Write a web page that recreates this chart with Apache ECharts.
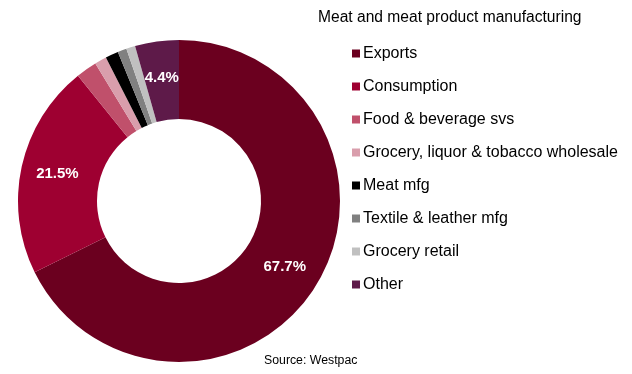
<!DOCTYPE html>
<html>
<head>
<meta charset="utf-8">
<script src="https://cdn.jsdelivr.net/npm/echarts@6/dist/echarts.min.js"></script>
<style>
  html, body { margin: 0; padding: 0; background: #fff; }
  #chart { width: 632px; height: 374px; }
</style>
</head>
<body>
<div id="chart"></div>
<script>
// Shares of meat and meat product manufacturing output by destination (%)
const categories = [
  'Exports',
  'Consumption',
  'Food & beverage svs',
  'Grocery, liquor & tobacco wholesale',
  'Meat mfg',
  'Textile & leather mfg',
  'Grocery retail',
  'Other'
];
const shares = [67.7, 21.5, 2.1, 1.2, 1.3, 0.9, 0.9, 4.4];
const colors = ['#6b001f', '#9e0031', '#c0506b', '#d99eac', '#000000', '#808080', '#c0c0c0', '#5e1a49'];

const FONT = '"Liberation Sans", Arial, sans-serif';

const pieData = categories.map((name, i) => ({
  name,
  value: shares[i],
  itemStyle: { color: colors[i] },
  label: { show: shares[i] >= 4 }
}));

const chart = echarts.init(document.getElementById('chart'), null, { renderer: 'canvas' });
chart.setOption({
  animation: false,
  backgroundColor: '#ffffff',
  title: [
    {
      text: 'Meat and meat product manufacturing',
      left: 318,
      top: 5,
      padding: [5, 0, 5, 0],
      textStyle: { fontFamily: FONT, fontSize: 15.6, fontWeight: 'normal', color: '#000' }
    },
    {
      text: 'Source: Westpac',
      left: 264,
      top: 350,
      padding: [5, 0, 5, 0],
      textStyle: { fontFamily: FONT, fontSize: 12.3, fontWeight: 'normal', color: '#000' }
    }
  ],
  legend: {
    orient: 'vertical',
    left: 352,
    top: 45.5,
    padding: 0,
    icon: 'rect',
    itemWidth: 8,
    itemHeight: 8,
    itemGap: 17,
    selectedMode: false,
    textStyle: { fontFamily: FONT, fontSize: 16, color: '#000', lineHeight: 16, padding: [0, 0, 0, -2] },
    data: categories
  },
  series: [{
    type: 'pie',
    center: [179, 201],
    radius: [82, 161],
    startAngle: 90,
    clockwise: true,
    avoidLabelOverlap: false,
    itemStyle: { borderWidth: 0 },
    label: {
      position: 'inside',
      formatter: p => p.value.toFixed(1) + '%',
      color: '#fff',
      fontFamily: FONT,
      fontSize: 15,
      fontWeight: 'bold'
    },
    labelLine: { show: false },
    emphasis: { disabled: true },
    data: pieData
  }]
});
</script>
</body>
</html>
